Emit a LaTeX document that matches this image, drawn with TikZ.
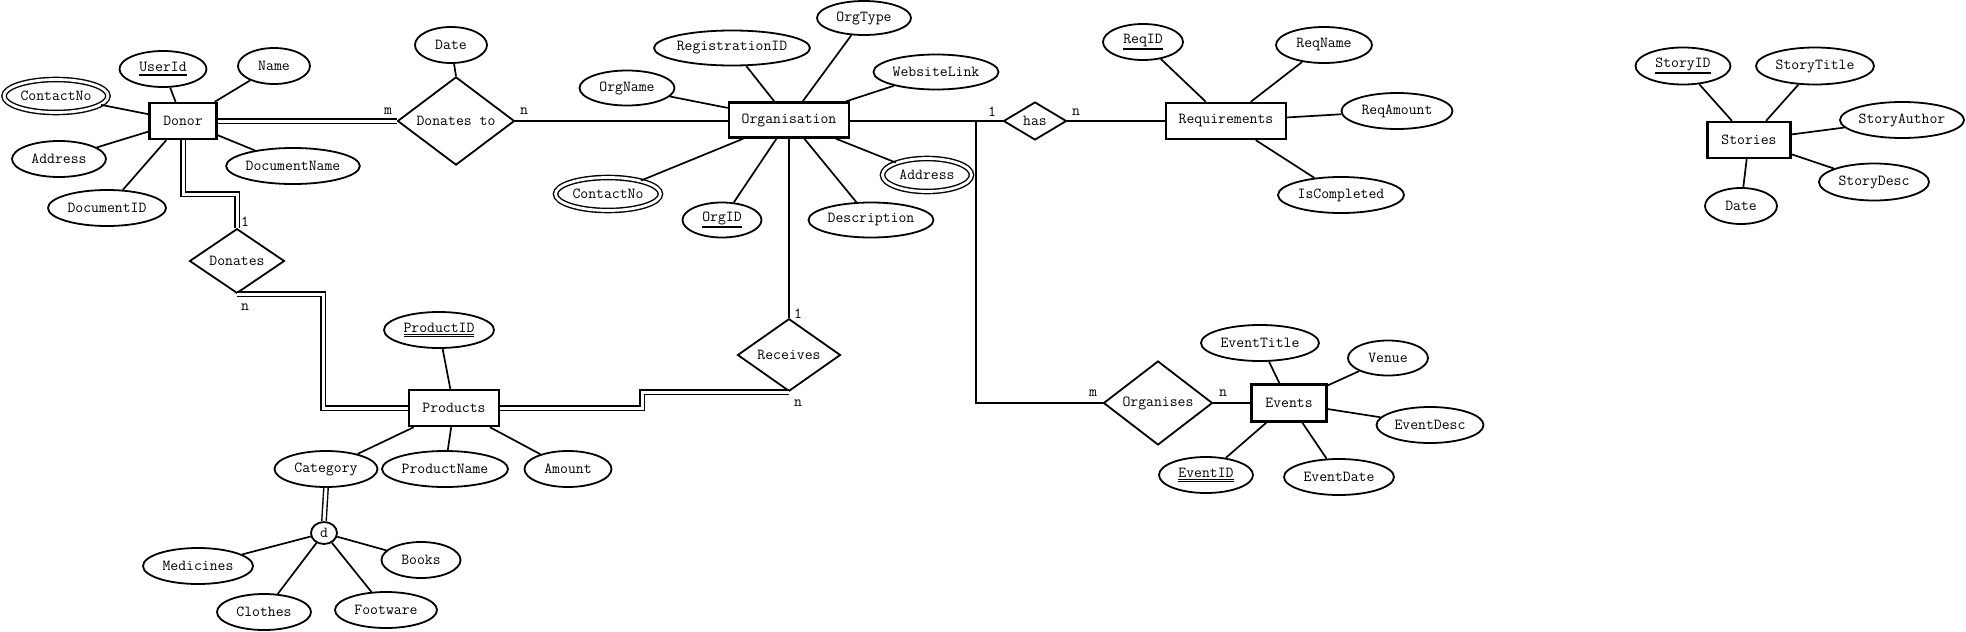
\documentclass[tikz,border=0pt]{standalone}
\usepackage{fontspec}
\usetikzlibrary{shapes.geometric}
\newcommand\pkey[1]{\vtop{\hbox{#1}\kern1.6pt\hrule height 2pt}}
\newcommand\pkeyd[1]{\vtop{\hbox{#1}\kern1.3pt\hrule height 1pt\kern1.1pt\hrule height 1pt}}
\tikzset{
 every node/.style={font=\fontsize{15.3}{18}\selectfont\ttfamily},
 ent/.style={draw, rectangle, line width=2.4pt, minimum height=36, inner sep=0},
 attr/.style={draw, ellipse, line width=1.8pt, minimum height=36, inner sep=0},
 mattr/.style={attr, double, line width=1.4pt, double distance=2.8pt},
 rel/.style={draw, diamond, line width=1.8pt, inner sep=0},
 conn/.style={line width=1.7pt},
 dbl/.style={double, line width=1.4pt, double distance=3pt},
 card/.style={inner sep=0}
}
\begin{document}
\begin{tikzpicture}[x=1pt,y=-1pt]
\useasboundingbox (0,0) rectangle (1966,632);
% ---------- Donor ----------
\node[ent, minimum width=67] (donor) at (183,121) {Donor};
\node[attr, minimum width=87] (userid) at (163,69) {\pkey{UserId}};
\node[attr, minimum width=72] (name) at (274,66) {Name};
\node[mattr, minimum width=104, minimum height=33] (dcontact) at (56,96) {ContactNo};
\node[attr, minimum width=94] (daddr) at (59,159) {Address};
\node[attr, minimum width=118] (docid) at (107,208) {DocumentID};
\node[attr, minimum width=133] (docname) at (293,166) {DocumentName};
% ---------- Donates to ----------
\node[rel, minimum width=117, minimum height=69] (dt) at (456,121) {Donates to};
\node[attr, minimum width=72] (dtdate) at (451,45) {Date};
% ---------- Donates ----------
\node[rel, minimum width=95, minimum height=55] (donates) at (237,261) {Donates};
% ---------- Organisation ----------
\node[ent, minimum width=120, minimum height=35] (org) at (789,120) {Organisation};
\node[attr, minimum width=94, minimum height=34] (orgtype) at (864,18) {OrgType};
\node[attr, minimum width=149, minimum height=35] (regid) at (732,48) {RegistrationID};
\node[attr, minimum width=125, minimum height=35] (web) at (936,72) {WebsiteLink};
\node[attr, minimum width=95, minimum height=35] (orgname) at (627,88) {OrgName};
\node[mattr, minimum width=105, minimum height=33] (ocontact) at (608,194) {ContactNo};
\node[attr, minimum width=79, minimum height=35] (orgid) at (722,220) {\pkey{OrgID}};
\node[attr, minimum width=125, minimum height=35] (desc) at (871,220) {Description};
\node[mattr, minimum width=89, minimum height=33] (oaddr) at (927,175) {Address};
% ---------- has / Requirements ----------
\node[rel, minimum width=63, minimum height=38] (has) at (1035,121) {has};
\node[ent, minimum width=120] (req) at (1226,121) {Requirements};
\node[attr, minimum width=80] (reqid) at (1143,42) {\pkey{ReqID}};
\node[attr, minimum width=96] (reqname) at (1324,45) {ReqName};
\node[attr, minimum width=111] (reqamt) at (1397,111) {ReqAmount};
\node[attr, minimum width=126] (iscomp) at (1341,195) {IsCompleted};
% ---------- Stories ----------
\node[ent, minimum width=83] (stories) at (1749,140) {Stories};
\node[attr, minimum width=95, minimum height=37] (storyid) at (1683,66) {\pkey{StoryID}};
\node[attr, minimum width=118, minimum height=37] (storytitle) at (1815,66) {StoryTitle};
\node[attr, minimum width=124] (storyauthor) at (1902,120) {StoryAuthor};
\node[attr, minimum width=110, minimum height=37] (storydesc) at (1874,182) {StoryDesc};
\node[attr, minimum width=72] (sdate) at (1741,206) {Date};
% ---------- Products ----------
\node[ent, minimum width=90] (prod) at (454,408) {Products};
\node[attr, minimum width=110] (prodid) at (439,330) {\pkeyd{ProductID}};
\node[attr, minimum width=103] (cat) at (326,469) {Category};
\node[attr, minimum width=126] (prodname) at (445,469) {ProductName};
\node[attr, minimum width=87] (amount) at (568,469) {Amount};
\node[attr, minimum width=26, minimum height=22] (dj) at (324,533) {d};
\node[attr, minimum width=110] (med) at (198,566) {Medicines};
\node[attr, minimum width=79] (books) at (421,560) {Books};
\node[attr, minimum width=94] (clothes) at (264,612) {Clothes};
\node[attr, minimum width=102] (foot) at (386,610) {Footware};
% ---------- Receives ----------
\node[rel, minimum width=103, minimum height=61] (rec) at (789,355) {Receives};
% ---------- Organises / Events ----------
\node[rel, minimum width=109, minimum height=66] (orgs) at (1158,403) {Organises};
\node[ent, minimum width=75, minimum height=37] (events) at (1289,403) {Events};
\node[attr, minimum width=118] (etitle) at (1260,343) {EventTitle};
\node[attr, minimum width=80, minimum height=35] (venue) at (1388,358) {Venue};
\node[attr, minimum width=107] (edesc) at (1430,425) {EventDesc};
\node[attr, minimum width=94] (eid) at (1206,475) {\pkeyd{EventID}};
\node[attr, minimum width=110] (edate) at (1339,477) {EventDate};
% ---------- cardinality labels ----------
\node[card] (c1) at (388,111) {m};
\node[card] (c2) at (524,111) {n};
\node[card] (c3) at (245,222) {1};
\node[card] (c4) at (245,307) {n};
\node[card] (c5) at (992,112) {1};
\node[card] (c6) at (1076,112) {n};
\node[card] (c7) at (798,314) {1};
\node[card] (c8) at (798,403) {n};
\node[card] (c9) at (1093,393) {m};
\node[card] (c10) at (1223,393) {n};
% ---------- attribute connectors ----------
\foreach \a in {userid,name,dcontact,daddr,docid,docname}
  \draw[conn] (donor) -- (\a);
\draw[conn] (dtdate) -- (dt.north);
\foreach \a in {orgtype,regid,web,orgname,ocontact,orgid,desc,oaddr}
  \draw[conn] (org) -- (\a);
\foreach \a in {reqid,reqname,reqamt,iscomp}
  \draw[conn] (req) -- (\a);
\foreach \a in {storyid,storytitle,storyauthor,storydesc,sdate}
  \draw[conn] (stories) -- (\a);
\foreach \a in {prodid,cat,prodname,amount}
  \draw[conn] (prod) -- (\a);
\foreach \a in {med,books,clothes,foot}
  \draw[conn] (dj) -- (\a);
\foreach \a in {etitle,venue,edesc,eid,edate}
  \draw[conn] (events) -- (\a);
% ---------- relationship connectors ----------
\draw[dbl] (donor.east) -- (dt.west);
\draw[conn] (dt.east) -- (org.west |- dt.east);
\coordinate (jn) at (976,121);
\draw[conn] (org.east |- has.west) -- (has.west);
\draw[conn] (has.east) -- (req.west);
\draw[conn] (jn) |- (orgs.west);
\draw[conn] (orgs.east) -- (events.west);
\draw[dbl] (donor.south) -- ++(0,54) -| (donates.north);
\draw[dbl] (donates.south) -- ++(86,0) |- (prod.west);
\draw[conn] (org.south) -- (rec.north);
\draw[dbl] (rec.south) -- ++(-147,0) |- (prod.east);
\draw[dbl] (cat.south) -- (dj.north);
\end{tikzpicture}
\end{document}
